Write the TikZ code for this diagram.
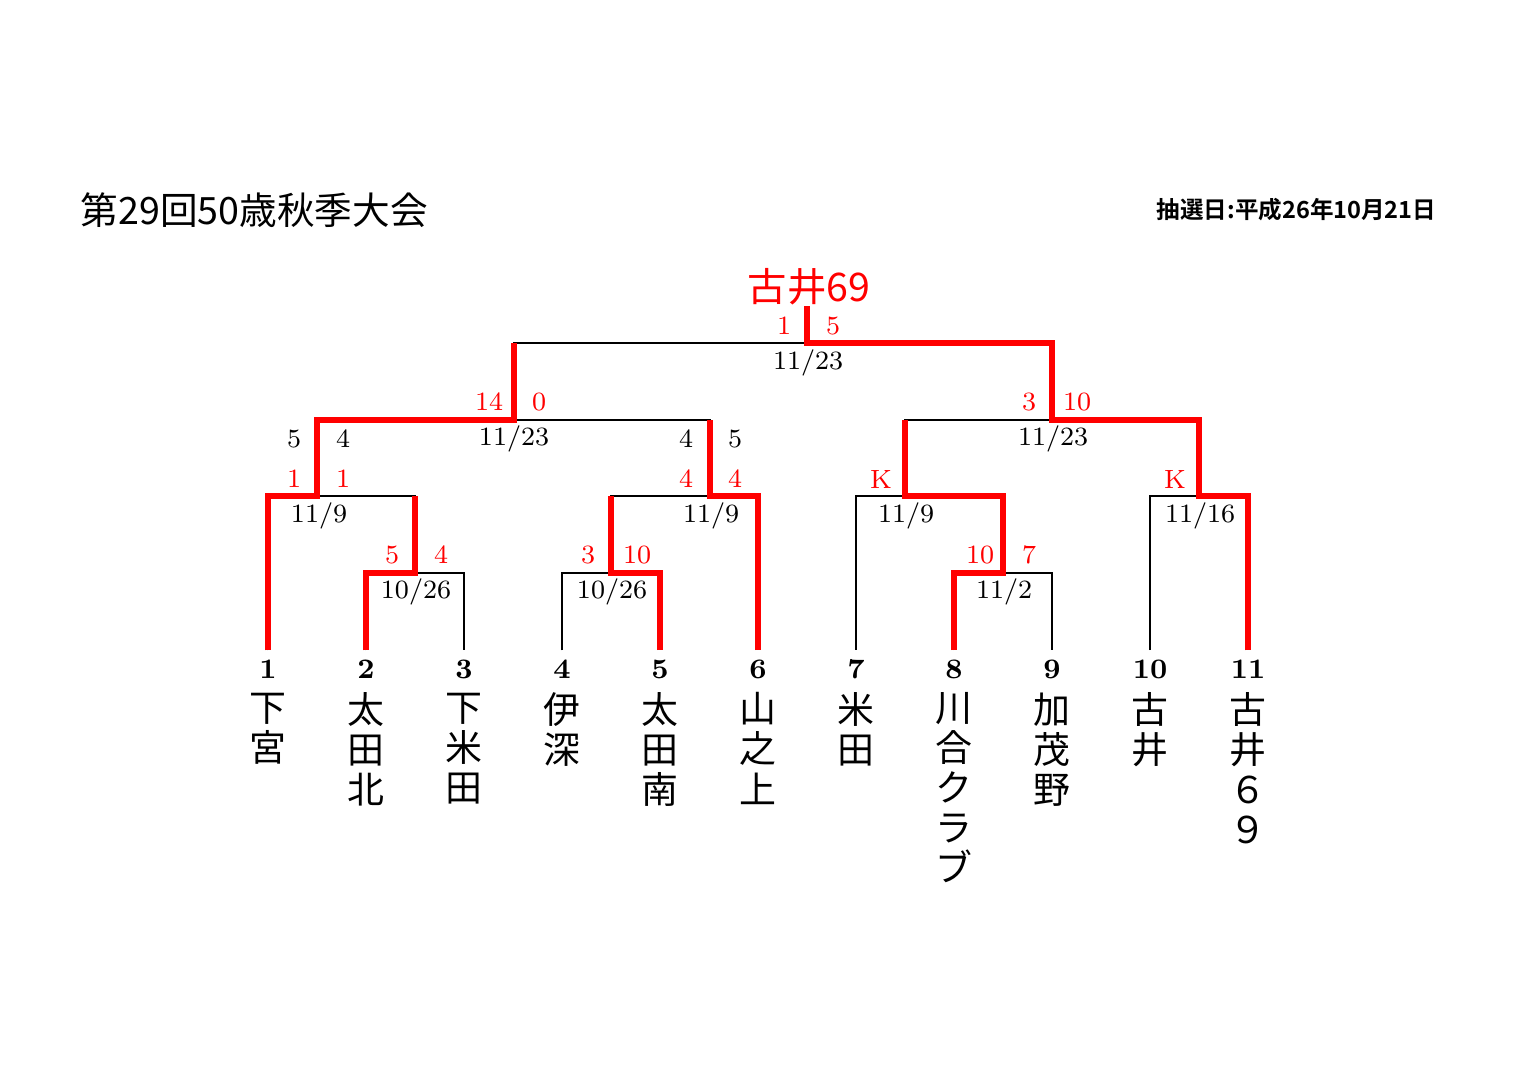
\documentclass[tikz,border=0pt]{standalone}
\usepackage{fontspec}
\usepackage{tikz}
\usetikzlibrary{calc}
\newfontfamily\jp[BoldFont={Noto Sans CJK JP Bold}]{Noto Sans CJK JP}

\tikzset{
	bracket/.style={black, line width=0.6pt},
	win/.style={red, line width=1.5pt},
	score/.style={red, inner sep=0pt, font=\fontsize{7.5}{9}\selectfont},
	subscore/.style={score, black},
	date/.style={black, inner sep=0pt, font=\fontsize{7.5}{9}\selectfont},
	num/.style={inner sep=2.5pt, font=\bfseries\fontsize{8}{9}\selectfont},
	tname/.style={anchor=north, inner sep=0pt, align=center, font=\jp\fontsize{10.5}{11.38}\selectfont},
}

\begin{document}
\begin{tikzpicture}[x=0.01cm, y=-0.01cm]
	\useasboundingbox (0,0) rectangle (1519,1075);

	% headings
	\node[anchor=west, inner sep=0pt, font=\jp\fontsize{10.7}{12}\selectfont] (title) at (80,210) {第29回50歳秋季大会};
	\node[anchor=east, inner sep=0pt, font=\jp\bfseries\fontsize{6.7}{8}\selectfont] (draw) at (1437,210) {抽選日:平成26年10月21日};
	\node[red, inner sep=0pt, font=\jp\fontsize{11.2}{12}\selectfont] (champ) at (809,287) {古井69};

	% teams
	\node[num] (t1) at (268,669) {1};
	\node[num] (t2) at (366,669) {2};
	\node[num] (t3) at (464,669) {3};
	\node[num] (t4) at (562,669) {4};
	\node[num] (t5) at (660,669) {5};
	\node[num] (t6) at (758,669) {6};
	\node[num] (t7) at (856,669) {7};
	\node[num] (t8) at (954,669) {8};
	\node[num] (t9) at (1052,669) {9};
	\node[num] (t10) at (1150,669) {10};
	\node[num] (t11) at (1248,669) {11};

	\node[tname] (n1) at (268,692) {下\\宮};
	\node[tname] (n2) at (366,692) {太\\田\\北};
	\node[tname] (n3) at (464,692) {下\\米\\田};
	\node[tname] (n4) at (562,692) {伊\\深};
	\node[tname] (n5) at (660,692) {太\\田\\南};
	\node[tname] (n6) at (758,692) {山\\之\\上};
	\node[tname] (n7) at (856,692) {米\\田};
	\node[tname] (n8) at (954,692) {川\\合\\ク\\ラ\\ブ};
	\node[tname] (n9) at (1052,692) {加\\茂\\野};
	\node[tname] (n10) at (1150,692) {古\\井};
	\node[tname] (n11) at (1248,692) {古\\井\\６\\９};

	% match points
	\coordinate (mA) at (415,573);
	\coordinate (mB) at (611,573);
	\coordinate (mC) at (1003,573);
	\coordinate (mD) at (317,496);
	\coordinate (mE) at (710,496);
	\coordinate (mF) at (905,496);
	\coordinate (mG) at (1199,496);
	\coordinate (mH) at (514,420);
	\coordinate (mI) at (1052,420);
	\coordinate (mK) at (807,343);

	% bracket
	\draw[bracket] (t2.north) |- (mA) -| (t3.north);
	\draw[bracket] (t4.north) |- (mB) -| (t5.north);
	\draw[bracket] (t8.north) |- (mC) -| (t9.north);
	\draw[bracket] (t1.north) |- (mD) -| (mA);
	\draw[bracket] (mB) |- (mE) -| (t6.north);
	\draw[bracket] (t7.north) |- (mF) -| (mC);
	\draw[bracket] (t10.north) |- (mG) -| (t11.north);
	\draw[bracket] (mD) |- (mH) -| (mE);
	\draw[bracket] (mF) |- (mI) -| (mG);
	\draw[bracket] (mH) |- (mK) -| (mI);

	% winners
	\draw[win] (t1.north) |- (mD) |- (mH) -- (mH |- mK);
	\draw[win] (t2.north) |- (mA) -- (mA |- mD);
	\draw[win] (t5.north) |- (mB) -- (mB |- mE);
	\draw[win] (t6.north) |- (mE) -- (mE |- mH);
	\draw[win] (t8.north) |- (mC) |- (mF) -- (mF |- mI);
	\draw[win] (t11.north) |- (mG) |- (mI) |- (mK) -- (mK |- champ.south);

	% scores
	\node[score] (sA1) at (392,555) {5};
	\node[score] (sA2) at (441,555) {4};
	\node[score] (sB1) at (588,555) {3};
	\node[score] (sB2) at (637,555) {10};
	\node[score] (sC1) at (980,555) {10};
	\node[score] (sC2) at (1029,555) {7};
	\node[score] (sD1) at (294,479) {1};
	\node[score] (sD2) at (343,479) {1};
	\node[subscore] (pD1) at (294,439) {5};
	\node[subscore] (pD2) at (343,439) {4};
	\node[score] (sE1) at (686,479) {4};
	\node[score] (sE2) at (735,479) {4};
	\node[subscore] (pE1) at (686,439) {4};
	\node[subscore] (pE2) at (735,439) {5};
	\node[score] (sF1) at (881,479) {K};
	\node[score] (sG1) at (1175,479) {K};
	\node[score] (sH1) at (489,402) {14};
	\node[score] (sH2) at (539,402) {0};
	\node[score] (sI1) at (1029,402) {3};
	\node[score] (sI2) at (1077,402) {10};
	\node[score] (sK1) at (784,326) {1};
	\node[score] (sK2) at (833,326) {5};

	% dates
	\node[date] (dA) at (416,592) {10/26};
	\node[date] (dB) at (612,592) {10/26};
	\node[date] (dC) at (1004,592) {11/2};
	\node[date] (dD) at (319,516) {11/9};
	\node[date] (dE) at (711,516) {11/9};
	\node[date] (dF) at (906,516) {11/9};
	\node[date] (dG) at (1200,516) {11/16};
	\node[date] (dH) at (514,439) {11/23};
	\node[date] (dI) at (1053,439) {11/23};
	\node[date] (dK) at (808,363) {11/23};
\end{tikzpicture}
\end{document}
